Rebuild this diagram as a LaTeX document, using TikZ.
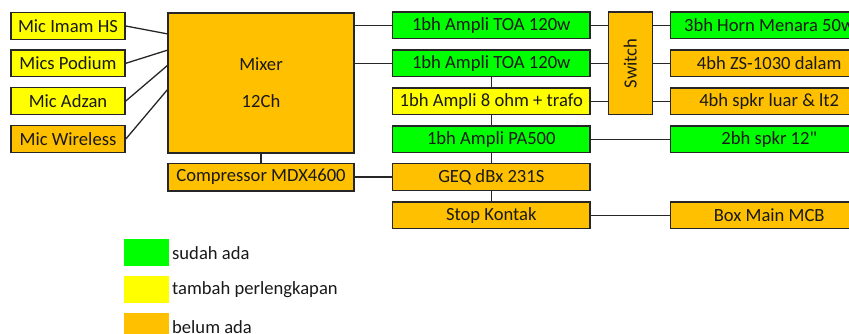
\documentclass[tikz,border=0pt]{standalone}
\usepackage{fontspec}
\setmainfont{Carlito}
\definecolor{cgreen}{RGB}{0,255,0}
\definecolor{cyellow}{RGB}{255,255,0}
\definecolor{corange}{RGB}{255,192,0}
\begin{document}
\begin{tikzpicture}[x=1pt,y=-1pt,
  every node/.style={font=\fontsize{18.6}{22}\selectfont, text=black!90},
  box/.style={draw=black!85, line width=1.6pt, inner sep=0pt, minimum height=26.7pt},
  micbox/.style={box, minimum width=114pt},
  midbox/.style={box, minimum width=197.3pt},
  wire/.style={draw=black!85, line width=1.3pt},
  legsq/.style={inner sep=0pt, minimum width=44.5pt, minimum height=26.7pt}]
\useasboundingbox (0,0) rectangle (849,333);
\begin{scope}
\clip (0,0) rectangle (849,333);
% mics
\node[micbox, fill=cyellow] (mic1) at (68,26) {Mic Imam HS};
\node[micbox, fill=cyellow] (mic2) at (68,63.3) {Mics Podium};
\node[micbox, fill=cyellow] (mic3) at (68,101) {Mic Adzan};
\node[micbox, fill=corange] (mic4) at (68,139) {Mic Wireless};
% mixer
\node[box, fill=corange, minimum width=186pt, minimum height=140pt, align=center] (mixer) at (261,82.7) {Mixer\\[15pt]12Ch};
\node[box, fill=corange, minimum width=186pt, minimum height=27.4pt] (comp) at (261,177) {Compressor MDX4600};
% middle column
\node[midbox, fill=cgreen] (toa1) at (491.3,25.3) {1bh Ampli TOA 120w};
\node[midbox, fill=cgreen] (toa2) at (491.3,63.3) {1bh Ampli TOA 120w};
\node[midbox, fill=cyellow] (ohm) at (491.3,101.3) {1bh Ampli 8 ohm + trafo};
\node[midbox, fill=cgreen] (pa) at (491.3,139.3) {1bh Ampli PA500};
\node[midbox, fill=corange] (geq) at (491.3,177) {GEQ dBx 231S};
\node[midbox, fill=corange] (stop) at (491.3,215.2) {Stop Kontak};
% switch
\node[box, fill=corange, minimum width=44pt, minimum height=102.7pt] (switch) at (630.3,63.3) {\rotatebox{90}{Switch}};
% right column
\node[midbox, fill=cgreen] (horn) at (769.2,25.3) {3bh Horn Menara 50w};
\node[midbox, fill=corange] (zs) at (769.2,63.3) {4bh ZS-1030 dalam};
\node[midbox, fill=corange] (luar) at (769.2,101.3) {4bh spkr luar \& lt2};
\node[midbox, fill=cgreen] (spk12) at (769.2,139.3) {2bh spkr 12{\addfontfeatures{Ligatures=TeXOff}"}};
\node[midbox, fill=corange] (mcb) at (769.2,215.2) {Box Main MCB};
% mixer input points
\coordinate (in1) at (168,34);
\coordinate (in2) at (168,50);
\coordinate (in3) at (168,65);
\coordinate (in4) at (168,89);
\end{scope}
% connectors
\draw[wire] (mic1.east) -- (in1);
\draw[wire] (mic2.east) -- (in2);
\draw[wire] (mic3.east) -- (in3);
\draw[wire] (mic4.east) -- (in4);
\draw[wire] (toa1.west) -- (toa1.west -| mixer.east);
\draw[wire] (toa2.west) -- (toa2.west -| mixer.east);
\draw[wire] (mixer.south) -- (comp.north);
\draw[wire] (comp.east) -- (geq.west);
\draw[wire] (toa2.south) -- (ohm.north);
\draw[wire] (ohm.south) -- (pa.north);
\draw[wire] (pa.south) -- (geq.north);
\draw[wire] (geq.south) -- (stop.north);
\draw[wire] (toa1.east) -- (toa1.east -| switch.west);
\draw[wire] (toa2.east) -- (toa2.east -| switch.west);
\draw[wire] (ohm.east) -- (ohm.east -| switch.west);
\draw[wire] (horn.west -| switch.east) -- (horn.west);
\draw[wire] (zs.west -| switch.east) -- (zs.west);
\draw[wire] (luar.west -| switch.east) -- (luar.west);
\draw[wire] (pa.east) -- (spk12.west);
\draw[wire] (stop.east) -- (mcb.west);
% legend
\begin{scope}
\clip (0,0) rectangle (849,333);
\node[legsq, fill=cgreen] (lg1) at (146.7,252.3) {};
\node[legsq, fill=cyellow] (lg2) at (146.7,289.3) {};
\node[legsq, fill=corange] (lg3) at (146.7,326.3) {};
\node[anchor=west, inner sep=0pt] (lt1) at (172,253) {sudah ada};
\node[anchor=west, inner sep=0pt] (lt2) at (172,290) {tambah perlengkapan};
\node[anchor=west, inner sep=0pt] (lt3) at (172,327) {belum ada};
\end{scope}
\end{tikzpicture}
\end{document}
